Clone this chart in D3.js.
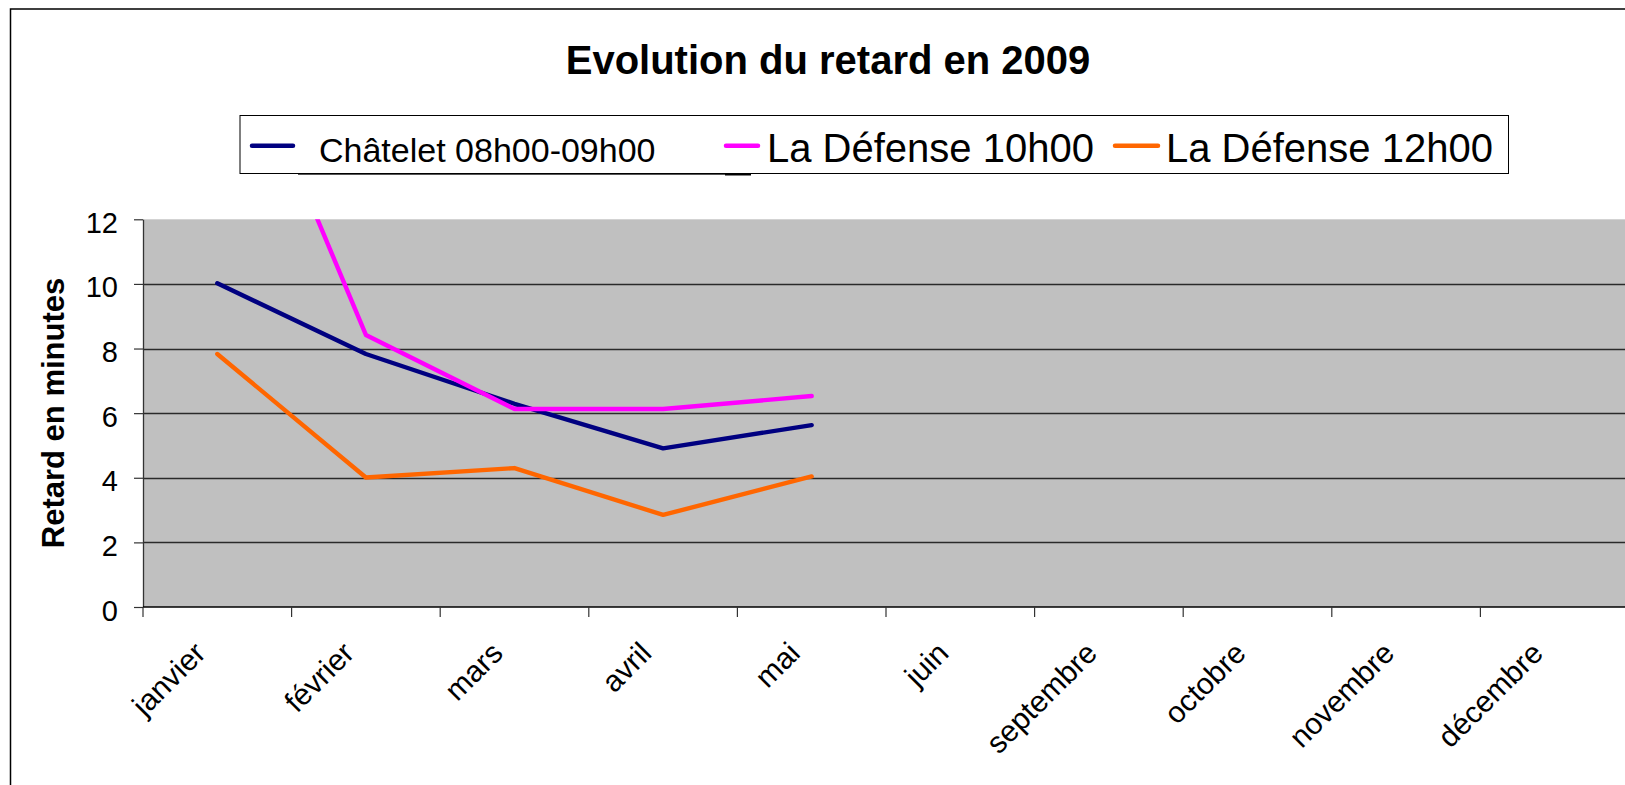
<!DOCTYPE html>
<html>
<head>
<meta charset="utf-8">
<script src="https://cdn.jsdelivr.net/npm/d3@7"></script>
<style>
  body { margin: 0; background: #fff; }
  svg { display: block; font-family: "Liberation Sans", Arial, sans-serif; }
</style>
</head>
<body>
<svg width="1625" height="785"></svg>
<script>
// data
const months = ["janvier", "février", "mars", "avril", "mai", "juin",
  "septembre", "octobre", "novembre", "décembre"];
const chatelet = [10.02, 7.83, 6.29, 4.91, 5.63];
const defense10 = [19.4, 8.42, 6.13, 6.13, 6.53];
const defense12 = [7.83, 4.01, 4.30, 2.85, 4.04];
const seriesNames = ["Châtelet 08h00-09h00", "La Défense 10h00", "La Défense 12h00"];
const seriesColors = ["#000080", "#ff00ff", "#ff6600"];
const yTicks = [0, 2, 4, 6, 8, 10, 12];

const svg = d3.select("svg");
const plot = { left: 143, top: 219.3, bottom: 607, bandW: 148.6 };
const plotRight = plot.left + plot.bandW * months.length;

const x = d3.scaleBand().domain(months).range([plot.left, plotRight]);
const y = d3.scaleLinear().domain([0, 12]).range([plot.bottom, plot.top]);

// outer chart frame (right/bottom edges fall outside the picture)
svg.append("rect")
  .attr("x", 10.5).attr("y", 9)
  .attr("width", 1700).attr("height", 900)
  .attr("fill", "#fff")
  .attr("stroke", "#000").attr("stroke-width", 1.5);

svg.append("text")
  .attr("x", 828).attr("y", 74)
  .attr("text-anchor", "middle")
  .attr("font-size", "40px").attr("font-weight", "bold")
  .text("Evolution du retard en 2009");

// legend
const legend = svg.append("g");
legend.append("rect")
  .attr("x", 240).attr("y", 115.5)
  .attr("width", 1268.5).attr("height", 58)
  .attr("fill", "#fff").attr("stroke", "#000").attr("stroke-width", 1);
legend.append("line")
  .attr("x1", 298).attr("x2", 751).attr("y1", 174.5).attr("y2", 174.5)
  .attr("stroke", "#555").attr("stroke-width", 1);
legend.append("line")
  .attr("x1", 725).attr("x2", 751).attr("y1", 174.5).attr("y2", 174.5)
  .attr("stroke", "#000").attr("stroke-width", 2);

const legendItems = [
  { sx1: 252, sx2: 293, tx: 319, size: 34 },
  { sx1: 726, sx2: 758, tx: 767, size: 40 },
  { sx1: 1115, sx2: 1158, tx: 1166, size: 40 },
];
legendItems.forEach((it, i) => {
  legend.append("line")
    .attr("x1", it.sx1).attr("x2", it.sx2)
    .attr("y1", 145.7).attr("y2", 145.7)
    .attr("stroke", seriesColors[i]).attr("stroke-width", 4.5)
    .attr("stroke-linecap", "round");
  legend.append("text")
    .attr("x", it.tx).attr("y", 161.7)
    .attr("font-size", it.size + "px")
    .text(seriesNames[i]);
});

// plot area
svg.append("rect")
  .attr("x", plot.left).attr("y", plot.top)
  .attr("width", plotRight - plot.left).attr("height", plot.bottom - plot.top)
  .attr("fill", "#c0c0c0");

svg.append("defs").append("clipPath").attr("id", "clip")
  .append("rect")
  .attr("x", plot.left).attr("y", plot.top)
  .attr("width", plotRight - plot.left).attr("height", plot.bottom - plot.top);

// gridlines
svg.append("g")
  .selectAll("line")
  .data(yTicks.filter((d) => d > 0 && d < 12))
  .enter()
  .append("line")
  .attr("x1", plot.left).attr("x2", plotRight)
  .attr("y1", (d) => Math.round(y(d)) + 0.5)
  .attr("y2", (d) => Math.round(y(d)) + 0.5)
  .attr("stroke", "#2a2a2a").attr("stroke-width", 1.3);

// y axis
const yAxis = svg.append("g")
  .attr("transform", `translate(${plot.left},0)`)
  .call(d3.axisLeft(y).tickValues(yTicks).tickSize(9).tickSizeOuter(0));
yAxis.select(".domain").attr("stroke", "#333").attr("stroke-width", 1.3);
yAxis.selectAll(".tick line").attr("stroke", "#333").attr("stroke-width", 1.2);
yAxis.selectAll(".tick text")
  .attr("x", -25)
  .attr("dy", null).attr("y", 13)
  .attr("font-size", "29px")
  .attr("font-family", "Liberation Sans, Arial, sans-serif")
  .attr("fill", "#000");

svg.append("text")
  .attr("transform", "translate(63.5,413) rotate(-90)")
  .attr("text-anchor", "middle")
  .attr("font-size", "31px").attr("font-weight", "bold")
  .text("Retard en minutes");

// x axis: line, ticks on band edges, rotated labels
svg.append("line")
  .attr("x1", plot.left).attr("x2", plotRight)
  .attr("y1", plot.bottom).attr("y2", plot.bottom)
  .attr("stroke", "#000").attr("stroke-width", 1.5);

svg.append("g")
  .selectAll("line")
  .data(months)
  .enter()
  .append("line")
  .attr("x1", (d) => x(d)).attr("x2", (d) => x(d))
  .attr("y1", plot.bottom).attr("y2", plot.bottom + 10)
  .attr("stroke", "#333").attr("stroke-width", 1.2);

svg.append("g")
  .selectAll("text")
  .data(months)
  .enter()
  .append("text")
  .attr("transform", (d) =>
    `translate(${x(d) + x.bandwidth() / 2 - 10},${plot.bottom + 48}) rotate(-45)`)
  .attr("text-anchor", "end")
  .attr("font-size", "30px")
  .text((d) => d);

// series lines
const valueLine = d3.line()
  .x((d, i) => x(months[i]) + x.bandwidth() / 2)
  .y((d) => y(d));

const lines = svg.append("g").attr("clip-path", "url(#clip)");
[chatelet, defense10, defense12].forEach((vals, i) => {
  lines.append("path")
    .attr("d", valueLine(vals))
    .attr("fill", "none")
    .attr("stroke", seriesColors[i])
    .attr("stroke-width", 4.4)
    .attr("stroke-linejoin", "round")
    .attr("stroke-linecap", "round");
});
</script>
</body>
</html>
